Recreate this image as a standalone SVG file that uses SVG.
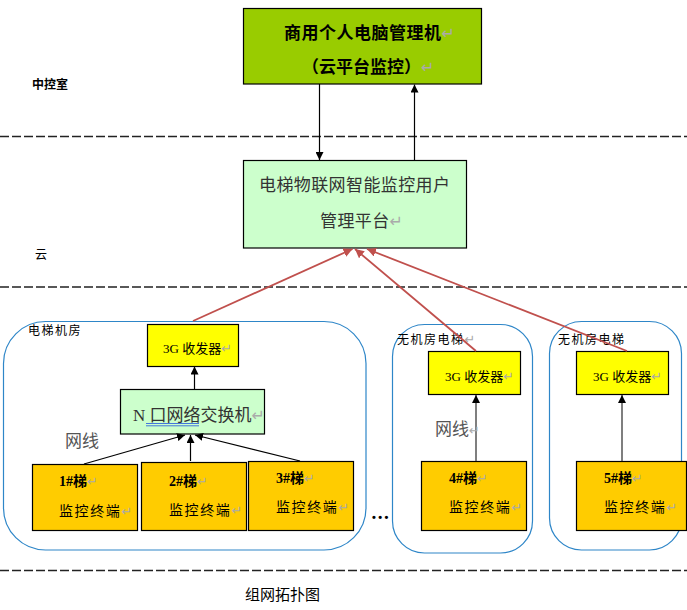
<svg xmlns="http://www.w3.org/2000/svg" width="687" height="610" viewBox="0 0 687 610">
<style>
text{font-family:"Noto Sans CJK SC","Liberation Serif",sans-serif;fill:#000}
.box{stroke:#000;stroke-width:1.2}
.g{fill:#9c0}.m{fill:#cfc}.y{fill:#ff0}.o{fill:#fc0}
.room{fill:#fff;stroke:#2e86c8;stroke-width:1.2}
.dash{stroke:#222;stroke-width:1.5;stroke-dasharray:9 3;fill:none}
.k{stroke:#000;stroke-width:1.2;fill:none;marker-end:url(#ka)}
.kg{stroke:#555;stroke-width:1.5;fill:none;marker-end:url(#ka)}
.r{stroke:#c0504d;stroke-width:1.8;fill:none;marker-end:url(#ra)}
.ret{fill:#aaa;font-family:"DejaVu Sans",sans-serif;font-weight:400;letter-spacing:0}
.rs{font-size:13px}.rm{font-size:16px}
.s3{font-size:13px}.lat{font-family:"Liberation Serif","Noto Sans CJK SC",serif}
.t{font-size:14px;font-weight:700}.tl{font-family:"Liberation Serif","Noto Sans CJK SC",serif;font-weight:700}
.mon{font-size:14px;letter-spacing:1.6px}
.wire{font-size:17px;fill:#555}
.lab{font-size:12px;letter-spacing:1.500px}
.soft{fill:#333}
</style>
<defs>
<marker id="ka" viewBox="0 0 10 10" refX="10" refY="5" markerWidth="8" markerHeight="8" markerUnits="userSpaceOnUse" orient="auto"><path d="M0 0L10 5L0 10Z" fill="#000"/></marker>
<marker id="ra" viewBox="0 0 10 10" refX="10" refY="5" markerWidth="9" markerHeight="9" markerUnits="userSpaceOnUse" orient="auto"><path d="M0 0L10 5L0 10Z" fill="#c0504d"/></marker>
</defs>
<g id="dividers">
<path class="dash" d="M0 136.500H687"/>
<path class="dash" d="M0 287H687"/>
<path class="dash" d="M0 570.500H687"/>
</g>
<g id="zone-labels">
<text x="32" y="89" font-size="12" font-weight="700">中控室</text>
<text x="35" y="259" font-size="12">云</text>
<text x="245" y="600" font-size="15">组网拓扑图</text>
</g>
<g id="room-1"><rect class="room" x="3.500" y="321.500" width="362.500" height="228.500" rx="42"/><text class="lab" x="28" y="335">电梯机房</text></g>
<g id="room-2"><rect class="room" x="392.500" y="324.500" width="140" height="228.500" rx="32"/><text class="lab" x="397" y="344">无机房电梯<tspan class="ret rs">↵</tspan></text></g>
<g id="room-3"><rect class="room" x="549.500" y="321.500" width="132" height="228.500" rx="32"/><text class="lab" x="558" y="344">无机房电梯</text></g>
<g id="pc"><rect class="box g" x="243.500" y="8.500" width="238" height="75.500"/>
<text x="284" y="39" font-size="17" font-weight="700" letter-spacing="0.5">商用个人电脑管理机<tspan class="ret rm">↵</tspan></text>
<text x="302" y="73" font-size="17" font-weight="700">（云平台监控）<tspan class="ret rm">↵</tspan></text></g>
<g id="platform"><rect class="box m" x="243.500" y="160.500" width="223" height="87.500"/>
<text class="soft" x="259" y="191" font-size="17" letter-spacing="0.4">电梯物联网智能监控用户</text>
<text class="soft" x="320" y="227" font-size="17" letter-spacing="0.4">管理平台<tspan class="ret rm">↵</tspan></text></g>
<g id="tx-1"><rect class="box y" x="147.500" y="324.500" width="91" height="42"/><text class="s3" x="163" y="353"><tspan class="lat">3G </tspan>收发器<tspan class="ret rs">↵</tspan></text></g>
<g id="switch"><rect class="box m" x="120.500" y="389.500" width="144" height="44.500"/>
<text class="soft" x="133" y="421" font-size="17"><tspan class="lat">N </tspan>口网络交换机<tspan class="ret rm">↵</tspan></text>
<path d="M146 423.500H199M146 425.800H199" stroke="#3366dd" stroke-width="0.9" fill="none"/></g>
<g id="tx-2"><rect class="box y" x="428.500" y="351.500" width="92" height="43"/><text class="s3" x="445" y="381"><tspan class="lat">3G </tspan>收发器<tspan class="ret rs">↵</tspan></text></g>
<g id="tx-3"><rect class="box y" x="576.500" y="351.500" width="92" height="43"/><text class="s3" x="593" y="381"><tspan class="lat">3G </tspan>收发器<tspan class="ret rs">↵</tspan></text></g>
<g id="lift-1"><rect class="box o" x="32.500" y="464.500" width="105" height="66"/><text class="t" x="59" y="486"><tspan class="tl">1#</tspan>梯<tspan class="ret rs">↵</tspan></text><text class="mon" x="59" y="516">监控终端<tspan class="ret rs">↵</tspan></text></g>
<g id="lift-2"><rect class="box o" x="141.500" y="462.500" width="105" height="68"/><text class="t" x="169" y="486"><tspan class="tl">2#</tspan>梯<tspan class="ret rs">↵</tspan></text><text class="mon" x="169" y="515">监控终端<tspan class="ret rs">↵</tspan></text></g>
<g id="lift-3"><rect class="box o" x="248.500" y="461.500" width="105" height="69"/><text class="t" x="276" y="483"><tspan class="tl">3#</tspan>梯<tspan class="ret rs">↵</tspan></text><text class="mon" x="276" y="512">监控终端<tspan class="ret rs">↵</tspan></text></g>
<g id="lift-4"><rect class="box o" x="421.500" y="461.500" width="105" height="69"/><text class="t" x="449" y="483"><tspan class="tl">4#</tspan>梯<tspan class="ret rs">↵</tspan></text><text class="mon" x="449" y="512">监控终端<tspan class="ret rs">↵</tspan></text></g>
<g id="lift-5"><rect class="box o" x="576.500" y="461.500" width="110" height="69"/><text class="t" x="604" y="483"><tspan class="tl">5#</tspan>梯<tspan class="ret rs">↵</tspan></text><text class="mon" x="604" y="512">监控终端<tspan class="ret rs">↵</tspan></text></g>
<g id="connectors">
<path class="k" d="M319.500 84V160"/>
<path class="k" d="M414.500 160V84.500"/>
<path class="r" d="M193 321L352.500 249"/>
<path class="r" d="M476 351L355 249"/>
<path class="r" d="M627 351L367 249"/>
<path class="k" d="M194.500 389V366.500"/>
<path class="k" d="M84 464L185 435"/>
<path class="k" d="M190.500 461V435"/>
<path class="k" d="M300 461L195 435"/>
<path class="kg" d="M476 461V395"/>
<path class="kg" d="M622 461V395"/>
</g>
<g id="annotations">
<text class="wire" x="65" y="447">网线</text>
<text class="wire" x="435" y="435">网线<tspan class="ret rs">↵</tspan></text>
<text x="372" y="521" font-size="11" font-weight="700" letter-spacing="2.400" style="font-family:'Liberation Sans',sans-serif">•••</text>
</g>
</svg>
